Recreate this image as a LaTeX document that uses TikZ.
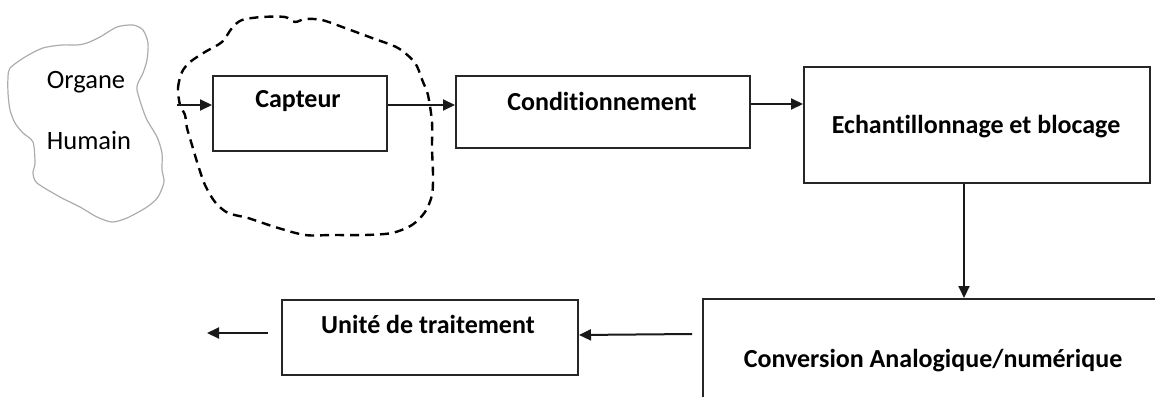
\documentclass[tikz,border=0pt]{standalone}
\usepackage{fontspec}
\setmainfont{Carlito}[Ligatures=NoCommon]
\usetikzlibrary{arrows.meta}
\tikzset{
  box/.style={draw=black!85, line width=2pt, rectangle, inner sep=0pt, anchor=north west},
  lbl/.style={font=\bfseries\fontsize{26}{30}\selectfont, inner sep=0pt},
  orglbl/.style={font=\fontsize{26.5}{30}\selectfont, inner sep=0pt},
  arr/.style={line width=2pt, draw=black!90, -{Triangle[length=12pt,width=11pt]}},
}
\begin{document}
\begin{tikzpicture}[x=1pt,y=-1pt]
\useasboundingbox (0,0) rectangle (1155,396);
\clip (0,0) rectangle (1155,396);
% organ cloud
\draw[gray!65, line width=1.2pt] plot[smooth cycle, tension=0.45] coordinates {
 (10,68) (25,57) (43,48) (62,45) (77,45) (87,43) (100,37) (117,27) (133,25) (143,30)
 (148,43) (147,60) (143,73) (138,83) (137,90) (142,107) (147,120) (157,137) (162,153)
 (162,170) (164,182) (158,197) (147,207) (127,218) (112,222) (97,217) (80,207) (60,197)
 (37,183) (33,173) (35,163) (33,142) (23,133) (15,123) (10,110) (8,93) (8,77)};
\node[orglbl] (org1) at (86,82) {Organe};
\node[orglbl] (org2) at (89,140) {Humain};
% dashed outline around sensor
\draw[black, line width=2.4pt, dash pattern=on 9pt off 6pt] plot[smooth cycle, tension=0.5] coordinates {
 (180,105) (178,88) (182,72) (190,62) (205,52) (222,42) (232,28) (242,20) (262,17) (285,17)
 (295,22) (305,19) (322,20) (345,28) (372,38) (398,48) (415,63) (423,82) (428,95) (432,122)
 (432,148) (433,175) (432,195) (425,212) (412,225) (392,233) (365,235) (332,235) (305,235)
 (275,227) (248,218) (228,213) (215,202) (205,185) (198,165) (192,145) (187,128) (185,115)};
% boxes
\node[box, minimum width=174, minimum height=75] (cap) at (212,75) {};
\node[lbl] (capt) at (298,101) {Capteur};
\node[box, minimum width=294, minimum height=72] (cond) at (455,75) {};
\node[lbl] (condt) at (602,101) {Conditionnement};
\node[box, minimum width=346, minimum height=116] (ech) at (803,66) {};
\node[lbl] (echt) at (976,127) {Echantillonnage et blocage};
\node[box, minimum width=520, minimum height=140] (conv) at (702,298) {};
\node[lbl] (convt) at (933,361) {Conversion Analogique/numérique};
\node[box, minimum width=296, minimum height=75] (ut) at (281,299) {};
\node[lbl] (utt) at (428,324) {Unité de traitement};
% connectors
\coordinate (in) at (177,105);
\coordinate (out) at (207,333);
\draw[arr] (in) -- (cap.west |- in);
\draw[arr] (cap.east |- 0,105) -- (cond.west |- 0,105);
\draw[arr] (cond.east |- 0,104) -- (ech.west |- 0,104);
\draw[arr] (ech.south -| 964,0) -- (conv.north -| 964,0);
\draw[arr] ([xshift=-10pt]conv.west |- 0,334) -- (ut.east |- 0,335);
\draw[arr] ([xshift=-13pt]ut.west |- out) -- (out);
\end{tikzpicture}
\end{document}
